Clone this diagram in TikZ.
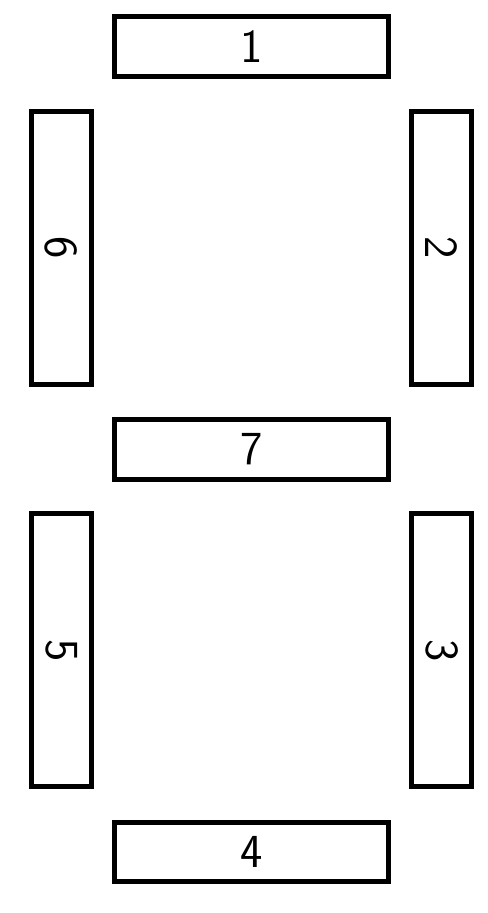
\documentclass[tikz,border=0pt]{standalone}
\usepackage{tikz}
\usetikzlibrary{positioning}
\definecolor{ink}{HTML}{000000}

\begin{document}
\begin{tikzpicture}[x=0.02cm,y=-0.02cm]
 \tikzstyle{segh}=[rectangle,draw=ink,line width=0.1cm,minimum width=5.48cm,minimum height=1.19cm,inner sep=0pt,font=\sffamily\fontsize{27}{27}\selectfont,text=ink]
 \tikzstyle{segv}=[segh,rotate=-90,minimum width=5.46cm,minimum height=1.2cm]
 \useasboundingbox (0,0) rectangle (487,913);
 \node[segh] (seg1) at (251.2,46.6) {1};
 \node[segv] (seg2) at (441.6,247.9) {2};
 \node[segv] (seg3) at (441.6,650.3) {3};
 \node[segh] (seg4) at (251.2,852) {4};
 \node[segv] (seg5) at (61.5,650.3) {5};
 \node[segv] (seg6) at (61.5,247.9) {6};
 \node[segh] (seg7) at (251.2,449.6) {7};
\end{tikzpicture}
\end{document}
